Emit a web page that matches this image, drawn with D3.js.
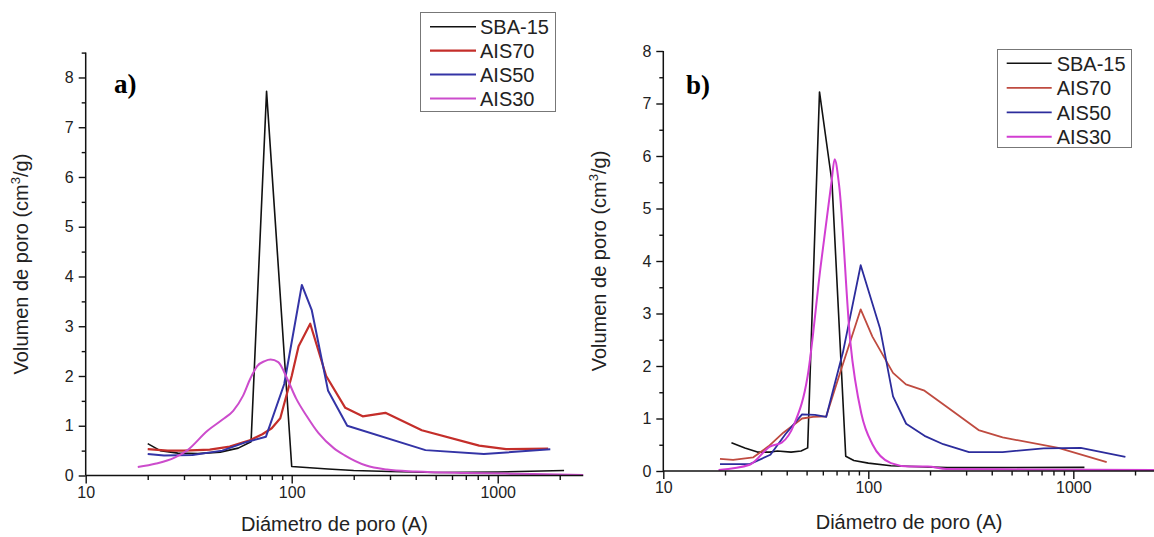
<!DOCTYPE html>
<html>
<head>
<meta charset="utf-8">
<script src="https://cdn.jsdelivr.net/npm/d3@7"></script>
<style>
  html, body { margin: 0; padding: 0; background: #fff; }
  svg { display: block; }
  text { font-family: "Liberation Sans", Arial, sans-serif; fill: #222; }
</style>
</head>
<body>
<svg id="chart" width="1154" height="537"></svg>
<script>
// Pore size distributions: diameter (Å) vs pore volume (cm3/g)
const seriesNames = ["SBA-15", "AIS70", "AIS50", "AIS30"];
const xTickValues = [10, 100, 1000];
const xMinorValues = [20, 30, 40, 50, 60, 70, 80, 90, 200, 300, 400, 500, 600, 700, 800, 900, 2000];
const yTickValues = [0, 1, 2, 3, 4, 5, 6, 7, 8];

// panel a
const sba15A = [[20,0.64],[23,0.5],[28,0.45],[35,0.44],[45,0.47],[55,0.55],[63.5,0.68],[75.5,7.72],[100,0.18],[150,0.13],[200,0.1],[300,0.08],[500,0.06],[1000,0.07],[2100,0.1]];
const ais70A = [[20,0.53],[25,0.5],[30,0.5],[40,0.52],[50,0.58],[62,0.7],[72,0.83],[80,0.95],[88,1.15],[100,2.0],[108,2.6],[123,3.05],[147,2.0],[182,1.36],[221,1.19],[285,1.26],[428,0.91],[813,0.6],[1098,0.53],[1757,0.54]];
const ais50A = [[20,0.43],[24,0.4],[33,0.41],[46,0.5],[60,0.67],[75,0.78],[92,1.84],[112,3.83],[125,3.33],[150,1.71],[186,1.0],[446,0.51],[857,0.43],[1800,0.53]];
const ais30A = [[17.9,0.17],[22,0.24],[27,0.36],[31,0.5],[39,0.9],[46,1.12],[52,1.3],[58,1.6],[63,1.95],[68,2.2],[74,2.3],[79,2.33],[86,2.28],[95,1.95],[105,1.55],[118,1.2],[135,0.85],[160,0.55],[180,0.41],[230,0.2],[290,0.12],[400,0.08],[700,0.05],[1500,0.03],[2600,0.01]];

// panel b
const sba15B = [[21.5,0.54],[25,0.44],[28.8,0.36],[33,0.36],[36,0.38],[42,0.36],[47,0.38],[50.6,0.44],[57.8,7.22],[66.5,5.5],[77.6,0.28],[85,0.2],[100,0.15],[129,0.1],[242,0.065],[1133,0.07]];
const ais70B = [[18.9,0.23],[21.9,0.21],[27.5,0.26],[32.6,0.47],[38.5,0.73],[47.5,1.0],[53.8,1.03],[62.3,1.04],[72,1.81],[91.8,3.08],[104.7,2.56],[132,1.87],[152.6,1.65],[188,1.53],[242,1.22],[345,0.78],[452,0.64],[845,0.44],[1455,0.17]];
const ais50B = [[18.9,0.13],[26.4,0.13],[33.3,0.31],[39.4,0.7],[47.5,1.08],[54.9,1.07],[62.3,1.03],[75.2,2.26],[91.8,3.92],[114,2.72],[132,1.42],[153,0.9],[188,0.67],[232,0.51],[310,0.36],[452,0.36],[716,0.43],[1087,0.44],[1795,0.27]];
const ais30B = [[18.6,0.02],[26.4,0.12],[33.3,0.47],[37.8,0.54],[43.6,0.9],[50.6,1.81],[58.5,3.89],[66.2,5.52],[68.5,5.94],[72,5.45],[81.7,2.46],[92.5,1.09],[104.7,0.51],[129,0.15],[158,0.085],[195,0.085],[240,0.04],[600,0.03],[2500,0.02]];

const panels = [
  {
    tag: "a)", series: [sba15A, ais70A, ais50A, ais30A],
    colors: ["#111111", "#c42e2a", "#3434a6", "#cc4ccc"],
    widths: [1.6, 2.2, 2.0, 2.0],
    xDomain: [10, 2600], xRange: [85.7, 583.2],
    yDomain: [0, 8.5], yRange: [475.5, 52.6],
    yMinor: d3.range(0.5, 8.6, 1),
    tagPos: [114, 93], yTitleX: 28, xTitleY: 531,
    legend: { x: 420.5, y: 12.5, w: 135, h: 99, line0: 430, line1: 476, text: 480, row0: 26.7, step: 23.9 }
  },
  {
    tag: "b)", series: [sba15B, ais70B, ais50B, ais30B],
    colors: ["#111111", "#bf4b40", "#2c2c9c", "#d23ed2"],
    widths: [1.6, 1.8, 1.8, 2.0],
    xDomain: [10, 2500], xRange: [663.3, 1154.9],
    yDomain: [0, 8], yRange: [471, 51],
    yMinor: d3.range(0.5, 8, 1),
    tagPos: [686, 94], yTitleX: 606, xTitleY: 529,
    legend: { x: 997.5, y: 49.5, w: 134, h: 98, line0: 1006.7, line1: 1051.7, text: 1056.7, row0: 63.3, step: 24.5 }
  }
];

const svg = d3.select("#chart");
svg.append("rect").attr("width", 1154).attr("height", 537).attr("fill", "#fff");

panels.forEach(p => {
  const x = d3.scaleLog().domain(p.xDomain).range(p.xRange);
  const y = d3.scaleLinear().domain(p.yDomain).range(p.yRange);
  const g = svg.append("g");
  const x0 = p.xRange[0], y0 = p.yRange[0];

  // data lines
  const line = d3.line().x(d => x(d[0])).y(d => y(d[1]));
  p.series.forEach((s, i) => {
    g.append("path")
      .datum(s)
      .attr("fill", "none")
      .attr("stroke", p.colors[i])
      .attr("stroke-width", p.widths[i])
      .attr("stroke-linejoin", "round")
      .attr("d", line.curve(i === 3 ? d3.curveMonotoneX : d3.curveLinear));
  });

  // x axis: major ticks with labels, minor ticks without
  const xAxis = g.append("g").attr("transform", `translate(0,${y0})`)
    .call(d3.axisBottom(x).tickValues(xTickValues).tickFormat(d3.format("d")).tickSize(8).tickPadding(3));
  g.append("g").attr("transform", `translate(0,${y0})`)
    .call(d3.axisBottom(x).tickValues(xMinorValues.filter(v => v < p.xDomain[1])).tickFormat("").tickSize(4.5))
    .select(".domain").remove();

  // y axis
  const yAxis = g.append("g").attr("transform", `translate(${x0},0)`)
    .call(d3.axisLeft(y).tickValues(yTickValues).tickFormat(d3.format("d")).tickSize(7).tickPadding(5));
  g.append("g").attr("transform", `translate(${x0},0)`)
    .call(d3.axisLeft(y).tickValues(p.yMinor).tickFormat("").tickSize(4))
    .select(".domain").remove();

  xAxis.select(".domain").attr("d", `M${p.xRange[0]},0H${p.xRange[1]}`);
  yAxis.select(".domain").attr("d", `M0,${p.yRange[0]}V${p.yRange[1]}`);
  g.selectAll(".domain").attr("stroke", "#111").attr("stroke-width", 1.5);
  g.selectAll(".tick line").attr("stroke", "#111").attr("stroke-width", 1.4);
  g.selectAll(".tick text").attr("font-size", 16).style("fill", "#222");

  // axis titles
  g.append("text")
    .attr("x", (p.xRange[0] + p.xRange[1]) / 2)
    .attr("y", p.xTitleY)
    .attr("text-anchor", "middle")
    .attr("font-size", 20)
    .text("Diámetro de poro (A)");

  const yt = g.append("text")
    .attr("transform", `translate(${p.yTitleX},${(p.yRange[0] + p.yRange[1]) / 2}) rotate(-90)`)
    .attr("text-anchor", "middle")
    .attr("font-size", 20);
  yt.append("tspan").text("Volumen de poro (cm");
  yt.append("tspan").attr("font-size", 13).attr("dy", -8).text("3");
  yt.append("tspan").attr("dy", 8).text("/g)");

  // panel tag, bold serif
  g.append("text")
    .attr("x", p.tagPos[0]).attr("y", p.tagPos[1])
    .style("font-family", "'Liberation Serif', 'Times New Roman', serif")
    .style("font-weight", "bold")
    .style("font-size", "27px")
    .style("fill", "#000")
    .text(p.tag);

  // legend
  const L = p.legend;
  g.append("rect")
    .attr("x", L.x).attr("y", L.y).attr("width", L.w).attr("height", L.h)
    .attr("fill", "#fff").attr("stroke", "#777").attr("stroke-width", 1);
  seriesNames.forEach((name, i) => {
    const ry = L.row0 + i * L.step;
    g.append("line")
      .attr("x1", L.line0).attr("x2", L.line1).attr("y1", ry).attr("y2", ry)
      .attr("stroke", p.colors[i]).attr("stroke-width", p.widths[i]);
    g.append("text")
      .attr("x", L.text).attr("y", ry).attr("dy", "0.36em")
      .attr("font-size", 20)
      .text(name);
  });
});
</script>
</body>
</html>
